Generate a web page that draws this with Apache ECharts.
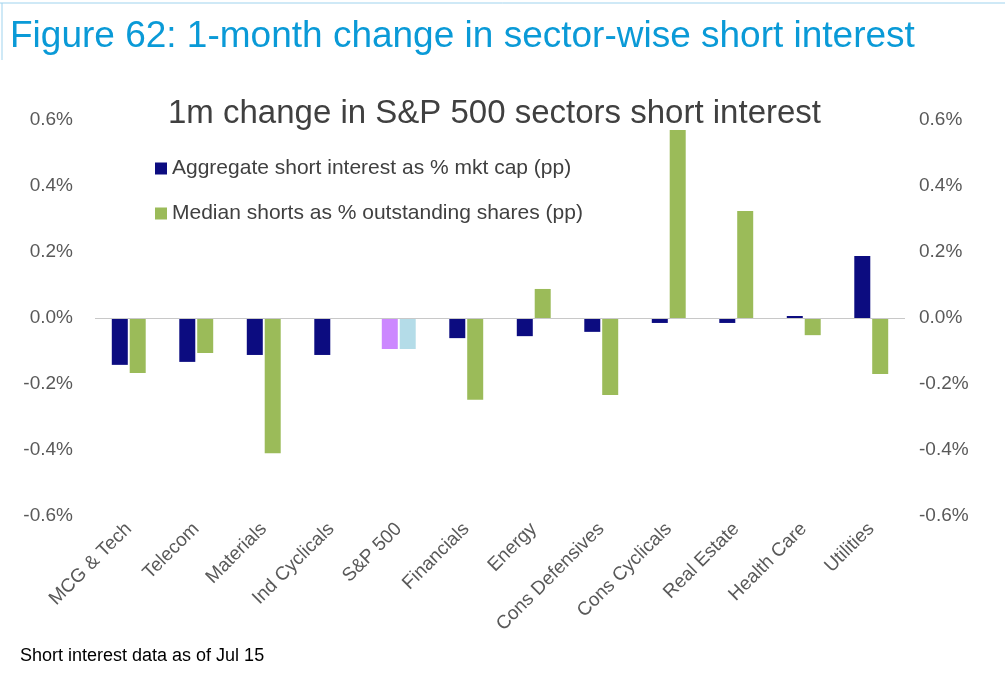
<!DOCTYPE html>
<html><head><meta charset="utf-8">
<script src="https://cdn.jsdelivr.net/npm/echarts@6/dist/echarts.min.js"></script>
<style>html,body{margin:0;padding:0;background:#fff}#c{width:1005px;height:688px}</style>
</head><body><div id="c"></div>
<script>
const categories = ['MCG & Tech','Telecom','Materials','Ind Cyclicals','S&P 500','Financials','Energy','Cons Defensives','Cons Cyclicals','Real Estate','Health Care','Utilities'];
const aggregateShort = [-0.142,-0.133,-0.112,-0.112,-0.094,-0.061,-0.055,-0.042,-0.015,-0.015,0.006,0.188];
const medianShorts = [-0.167,-0.106,-0.41,null,-0.094,-0.248,0.088,-0.233,0.57,0.324,-0.052,-0.17];
const yTicks = [-0.6,-0.4,-0.2,0,0.2,0.4,0.6];
const spIdx = categories.indexOf('S&P 500');
const navy = '#0c0c80', green = '#9bbb59';
const chart = echarts.init(document.getElementById('c'));
const font = 'Liberation Sans, Arial, sans-serif';
const yAx = (pos) => ({type:'value', position:pos, min:yTicks[0], max:yTicks[yTicks.length-1], interval:0.2,
  axisLine:{show:false}, axisTick:{show:false}, splitLine:{show:false},
  axisLabel:{color:'#595959', fontSize:19, fontFamily:font, margin: pos==='left'?22:14,
    formatter:v=>v.toFixed(1)+'%'}});
chart.setOption({
  animation:false,
  graphic:[
    {type:'line', shape:{x1:0,y1:3,x2:1005,y2:3}, style:{stroke:'#9fd3ee',lineWidth:1}},
    {type:'line', shape:{x1:2,y1:3,x2:2,y2:60}, style:{stroke:'#9fd3ee',lineWidth:1}},
    {type:'text', left:10, top:18, style:{text:'Figure 62: 1-month change in sector-wise short interest', fill:'#0a9ad7', fontSize:37, fontFamily:font}},
    {type:'text', left:20, top:647, style:{text:'Short interest data as of Jul 15', fill:'#000', fontSize:18, fontFamily:font}}
  ],
  title:{text:'1m change in S&P 500 sectors short interest', left:163, top:92, textStyle:{color:'#404040', fontSize:33, fontWeight:'normal', fontFamily:font}},
  legend:{orient:'vertical', left:150, top:153, itemGap:24, itemWidth:12, itemHeight:12, icon:'rect',
    textStyle:{color:'#404040', fontSize:21, fontFamily:font},
    data:['Aggregate short interest as % mkt cap (pp)','Median shorts as % outstanding shares (pp)']},
  grid:{left:95, right:100, top:120, bottom:172, outerBoundsMode:'none'},
  xAxis:{type:'category', data:categories, axisTick:{show:false},
    axisLine:{show:false, onZero:false},
    axisLabel:{rotate:45, interval:0, color:'#595959', fontSize:19, fontFamily:font, margin:10}},
  yAxis:[yAx('left'), yAx('right')],
  series:[
    {name:'Aggregate short interest as % mkt cap (pp)', type:'bar', barWidth:16, barGap:'12%',
      itemStyle:{color:navy},
      markLine:{silent:true, symbol:'none', label:{show:false}, lineStyle:{color:'#c8c8c8', type:'solid', width:1}, data:[{yAxis:0}]},
      data:aggregateShort.map((v,i)=>i===spIdx?{value:v,itemStyle:{color:'#cc88ff'}}:v)},
    {name:'Median shorts as % outstanding shares (pp)', type:'bar', barWidth:16, barGap:'12%',
      itemStyle:{color:green},
      data:medianShorts.map((v,i)=>i===spIdx?{value:v,itemStyle:{color:'#b4dce8'}}:v)}
  ]
});
</script></body></html>
